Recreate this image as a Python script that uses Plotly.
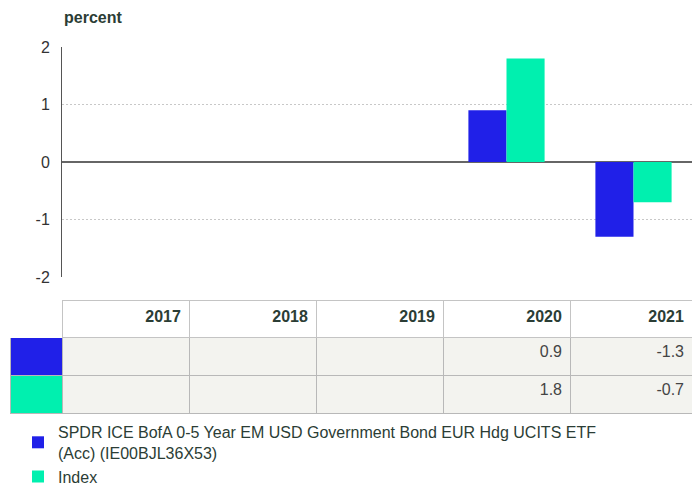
import plotly.graph_objects as go

years = ["2017", "2018", "2019", "2020", "2021"]
etf_values = [None, None, None, 0.9, -1.3]
index_values = [None, None, None, 1.8, -0.7]
etf_name = "SPDR ICE BofA 0-5 Year EM USD Government Bond EUR Hdg UCITS ETF<br>(Acc) (IE00BJL36X53)"
index_name = "Index"
y_ticks = [-2, -1, 0, 1, 2]
y_ticktext = ["-2", "-1", "0", "1", "2"]

BLUE = "#2020E8"
TEAL = "#00F0AF"
TXT = "#2b3d35"
CELL = "#f3f3ef"
W, H = 692, 486


def px(xp):
    return xp / W


def py(yp):
    return 1 - yp / H


def fmt(v):
    return "" if v is None else f"{v:.1f}"


fig = go.Figure()
fig.add_trace(go.Bar(x=years, y=etf_values, name=etf_name, marker_color=BLUE,
                     marker_line_width=0, xaxis="x", yaxis="y"))
fig.add_trace(go.Bar(x=years, y=index_values, name=index_name, marker_color=TEAL,
                     marker_line_width=0, xaxis="x", yaxis="y"))

n = len(years)
col_widths = [52] + [127] * (n - 1) + [122]
fig.add_trace(go.Table(
    domain=dict(x=[px(10), 1], y=[py(414), py(300)]),
    columnwidth=col_widths,
    header=dict(
        values=[""] + [f"<b>{y}</b>" for y in years],
        align="right",
        fill_color="white",
        line=dict(color=["white"] + ["#c4c4c4"] * n, width=1),
        font=dict(family="Liberation Sans, Arial, sans-serif", size=16, color=TXT),
        height=37,
    ),
    cells=dict(
        values=[["", ""]] + [[fmt(etf_values[i]), fmt(index_values[i])] for i in range(n)],
        align="right",
        fill_color=[[BLUE, TEAL]] + [[CELL, CELL]] * n,
        line=dict(color="#b8b8b8", width=1),
        font=dict(family="Liberation Sans, Arial, sans-serif", size=16, color="#444"),
        height=38,
    ),
))

plot_left, plot_right = 62, 692
fig.update_layout(
    width=W, height=H,
    margin=dict(l=0, r=0, t=0, b=0, autoexpand=False),
    paper_bgcolor="white", plot_bgcolor="white",
    barmode="group", bargap=0.4, bargroupgap=0,
    font=dict(family="Liberation Sans, Arial, sans-serif", size=16, color=TXT),
    xaxis=dict(domain=[px(plot_left), px(plot_right)],
               range=[-0.5, -0.5 + (plot_right - plot_left) / 127], showticklabels=False,
               showgrid=False, zeroline=False, showline=False, ticks="", fixedrange=True,
               automargin=False),
    yaxis=dict(domain=[py(277), py(47)], range=[-2, 2], tickvals=y_ticks,
               ticktext=y_ticktext, automargin=False,
               showgrid=True, gridcolor="#c8c8c8", griddash="2px,2px", gridwidth=1,
               zeroline=True, zerolinecolor="#666666", zerolinewidth=1.5,
               showline=True, linecolor="#555555", linewidth=1,
               ticks="", ticklabelstandoff=8,
               tickfont=dict(size=16, color="#333333")),
    legend=dict(orientation="v", x=px(18), y=py(415), xanchor="left", yanchor="top",
                font=dict(size=16, color=TXT), itemwidth=30, tracegroupgap=0,
                bgcolor="rgba(0,0,0,0)"),
    annotations=[dict(text="<b>percent</b>", x=px(62), y=py(17), xref="paper", yref="paper",
                      xanchor="left", yanchor="middle", showarrow=False,
                      font=dict(size=16, color=TXT))],
)

fig.write_html("out.html", config={"displayModeBar": False},
               post_script="document.body.style.margin='0';document.body.style.overflow='hidden';")
